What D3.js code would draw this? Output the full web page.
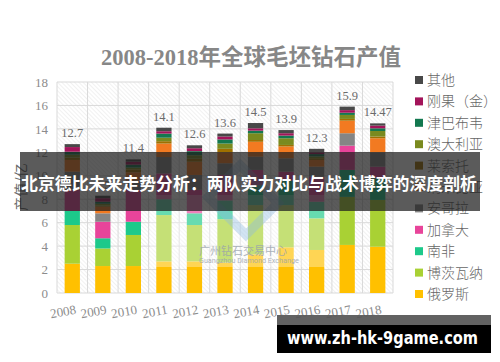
<!DOCTYPE html>
<html><head><meta charset="utf-8">
<script src="https://cdn.jsdelivr.net/npm/d3@7/dist/d3.min.js"></script>
<style>html,body{margin:0;padding:0;background:#fff;}svg{display:block;}</style>
</head><body>
<svg id="c" width="500" height="362"></svg>
<script>
// ---- data ----
const years = ["2008","2009","2010","2011","2012","2013","2014","2015","2016","2017","2018"];
const totalLabels = ["12.7","8.3","11.4","14.1","12.6","13.6","14.5","13.9","12.3","15.9","14.47"];
// stacked from bottom to top
const seriesNames = ["俄罗斯","博茨瓦纳","南非","加拿大","安哥拉","纳米比亚","莱索托","澳大利亚","津巴布韦","刚果（金）","其他"];
const russia    = [2.5, 2.3, 2.3, 2.7, 2.7, 2.6, 3.3, 3.9, 3.67, 4.1, 3.95];
const botswana  = [3.3, 1.5, 2.65, 3.95, 3.1, 3.7, 4.2, 3.6, 2.7, 4.1, 3.99];
const southAfrica = [1.2, 0.87, 1.13, 1.35, 1.0, 1.6, 1.7, 2.1, 1.42, 2.3, 1.85];
const canada    = [1.8, 1.41, 2.72, 2.2, 2.0, 2.17, 1.3, 0.75, 2.13, 2.07, 0.99];
const angola    = [1.55, 0.72, 0.8, 1.4, 1.27, 1.0, 1.13, 1.14, 0.86, 1.06, 1.22];
const namibia   = [1.0, 0.56, 0.7, 1.15, 1.13, 0.93, 1.27, 1.01, 0.57, 1.07, 1.2];
const lesotho   = [0.2, 0.1, 0.25, 0.2, 0.25, 0.3, 0.15, 0.13, 0.15, 0.15, 0.15];
const australia = [0.25, 0.15, 0.15, 0.3, 0.3, 0.45, 0.58, 0.57, 0.15, 0.34, 0.47];
const zimbabwe  = [0.25, 0.18, 0.25, 0.35, 0.35, 0.35, 0.22, 0.23, 0.2, 0.19, 0.23];
const drc       = [0.4, 0.3, 0.25, 0.2, 0.25, 0.25, 0.2, 0.2, 0.15, 0.22, 0.23];
const others    = [0.25, 0.21, 0.2, 0.3, 0.25, 0.25, 0.45, 0.27, 0.3, 0.3, 0.19];
const yTicks = [0,2,4,6,8,10,12,14,16,18];
const colors = ["#FFC000","#A9D134","#1DC98A","#E8449A","#858585","#F27A21","#A07000","#7A8A1F","#13784F","#A3145A","#484848"];

const seriesValues = [russia, botswana, southAfrica, canada, angola, namibia, lesotho, australia, zimbabwe, drc, others];
const rows = years.map((yr,i)=>{const r={year:yr}; seriesNames.forEach((n,k)=>r[n]=seriesValues[k][i]); return r;});

const svg = d3.select("#c");
const x = d3.scaleBand().domain(years).range([57,393]).paddingInner(0.5).paddingOuter(0.25);
const y = d3.scaleLinear().domain([0,18]).range([293,82]);

// hatch background
const defs = svg.append("defs");
const pat = defs.append("pattern").attr("id","hatch").attr("patternUnits","userSpaceOnUse")
  .attr("width",3).attr("height",3).attr("patternTransform","rotate(-45)");
pat.append("line").attr("x1",0).attr("y1",0).attr("x2",0).attr("y2",3).attr("stroke","#e4e4e4").attr("stroke-width",1);
svg.append("rect").attr("x",57).attr("y",82).attr("width",336).attr("height",211).attr("fill","url(#hatch)");

// gridlines
svg.append("g").selectAll("line").data(yTicks).join("line")
  .attr("x1",57).attr("x2",393).attr("y1",d=>y(d)).attr("y2",d=>y(d))
  .attr("stroke","#d9d9d9").attr("stroke-width",1);
const step = x.step();
svg.append("g").selectAll("line").data(d3.range(years.length+1)).join("line")
  .attr("x1",i=>57+i*step).attr("x2",i=>57+i*step).attr("y1",82).attr("y2",293)
  .attr("stroke","#d9d9d9").attr("stroke-width",1);

// y axis
const yAxis = d3.axisLeft(y).tickValues(yTicks).tickSize(0).tickPadding(9);
const ga = svg.append("g").attr("transform","translate(57,0)").call(yAxis);
ga.select(".domain").remove();
ga.selectAll("text").attr("font-family","Liberation Serif").attr("font-size",13).attr("fill","#8c8c8c");

// x axis labels
svg.append("g").selectAll("text").data(years).join("text")
  .attr("transform",d=>`translate(${x(d)+x.bandwidth()/2+3},${306}) rotate(-10)`)
  .attr("text-anchor","end").attr("dy","0.6em")
  .attr("font-family","Liberation Serif").attr("font-size",13).attr("fill","#8c8c8c").text(d=>d);

// stacked bars
const stacked = d3.stack().keys(seriesNames)(rows);
svg.append("g").selectAll("g").data(stacked).join("g").attr("fill",(d,i)=>colors[i])
  .selectAll("rect").data(d=>d).join("rect")
  .attr("x",d=>x(d.data.year)).attr("width",x.bandwidth())
  .attr("y",d=>y(d[1])).attr("height",d=>y(d[0])-y(d[1]));

// total labels
const topLayer = stacked[stacked.length-1];
svg.append("g").selectAll("text").data(topLayer).join("text")
  .attr("x",d=>x(d.data.year)+x.bandwidth()/2).attr("y",d=>y(d[1])-7)
  .attr("text-anchor","middle").attr("font-family","Liberation Serif").attr("font-size",12.5)
  .attr("fill","#6b6b6b").text((d,i)=>totalLabels[i]);

// title
svg.append("text").attr("x",251).attr("y",65).attr("text-anchor","middle")
  .attr("font-family","Liberation Serif, 'Noto Sans CJK SC'").attr("font-weight","bold")
  .attr("font-size",22.5).attr("fill","#878787").text("2008-2018年全球毛坯钻石产值");

// y axis title
svg.append("text").attr("transform","translate(26,187) rotate(-90)").attr("text-anchor","middle")
  .attr("font-family","'Noto Sans CJK SC'").attr("font-size",14).attr("fill","#6b6b6b").text("产值/亿");

// legend
const legendItems = seriesNames.map((n,i)=>({name:n,color:colors[i]})).reverse();
const lg = svg.append("g").selectAll("g").data(legendItems).join("g")
  .attr("transform",(d,i)=>`translate(415,${80+i*21.4})`);
lg.append("rect").attr("x",0).attr("y",-4).attr("width",8).attr("height",8).attr("fill",d=>d.color);
lg.append("text").attr("x",12).attr("y",0).attr("dy","0.36em")
  .attr("font-family","'Noto Sans CJK SC'").attr("font-weight",300).attr("font-size",14).attr("fill","#666").text(d=>d.name);

// watermark
svg.append("rect").attr("x",150).attr("y",195).attr("width",178).attr("height",72).attr("fill","#fff").attr("opacity",0.33);
svg.append("path").attr("d","M240,165 L278,203 L246,235 L208,197 Z").attr("fill","none")
  .attr("stroke","#8fbbe0").attr("stroke-width",9).attr("opacity",0.4);
svg.append("text").attr("x",199).attr("y",255).attr("font-family","'Noto Sans CJK SC'").attr("font-size",11)
  .attr("fill","#9aa3ad").attr("opacity",0.8).text("广州钻石交易中心");
svg.append("text").attr("x",199).attr("y",263).attr("font-family","Roboto").attr("font-size",7.2)
  .attr("fill","#9aa3ad").attr("opacity",0.8).text("Guangzhou Diamond Exchange");

// banner overlay
svg.append("rect").attr("x",20).attr("y",152).attr("width",460).attr("height",59).attr("fill","rgba(30,30,30,0.73)");
svg.append("text").attr("x",21).attr("y",190).attr("font-family","'Noto Sans CJK SC'").attr("font-weight","bold")
  .attr("font-size",17).attr("fill","#fff").attr("textLength",456).attr("lengthAdjust","spacingAndGlyphs")
  .text("北京德比未来走势分析：两队实力对比与战术博弈的深度剖析");

// bottom banner
svg.append("rect").attr("x",277).attr("y",315).attr("width",214).attr("height",10).attr("fill","#555").attr("opacity",0.92);
svg.append("rect").attr("x",277).attr("y",325).attr("width",214).attr("height",28).attr("fill","#000");
svg.append("text").attr("x",287).attr("y",344).attr("font-family","'DejaVu Sans'").attr("font-weight","bold")
  .attr("font-size",17).attr("fill","#fff").attr("textLength",191).attr("lengthAdjust","spacingAndGlyphs")
  .text("www.zh-hk-9game.com");
</script>
</body></html>
